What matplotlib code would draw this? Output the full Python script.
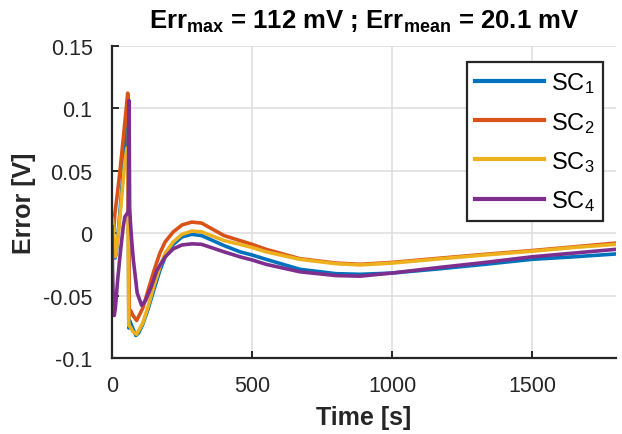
import matplotlib
matplotlib.use("Agg")
import matplotlib.pyplot as plt

plt.rcParams['font.family'] = ['Liberation Sans', 'DejaVu Sans']
plt.rcParams['mathtext.fontset'] = 'custom'
plt.rcParams['mathtext.rm'] = 'Liberation Sans'
plt.rcParams['mathtext.it'] = 'Liberation Sans'
plt.rcParams['mathtext.bf'] = 'Liberation Sans:bold'

# ---- data ----
t_sc1 = [0, 5, 11, 15, 25, 35, 45, 53, 57, 59, 60, 63, 70, 85, 95, 110, 130, 150, 171, 190, 219, 250, 285,
         320, 400, 457, 500, 550, 671, 800, 886, 1000, 1150, 1332, 1500, 1650, 1800]
v_sc1 = [0.003, -0.010, -0.020, -0.016, 0.008, 0.035, 0.065, 0.088, 0.092, 0.0, -0.076, -0.070, -0.074,
         -0.082, -0.080, -0.073, -0.060, -0.045, -0.030, -0.019, -0.009, -0.003, -0.001,
         -0.002, -0.010, -0.015, -0.0175, -0.021, -0.029, -0.0325, -0.033, -0.032, -0.029, -0.025,
         -0.021, -0.019, -0.0167]

t_sc2 = [0, 2, 4, 10, 20, 30, 40, 50, 56, 58, 60, 62, 66, 75, 88, 110, 130, 150, 171, 190, 219, 250, 285,
         320, 400, 457, 500, 550, 671, 800, 886, 1000, 1150, 1332, 1500, 1650, 1800]
v_sc2 = [0.0, -0.015, -0.005, 0.015, 0.033, 0.053, 0.075, 0.098, 0.112, 0.108, 0.0, -0.066, -0.062,
         -0.066, -0.070, -0.060, -0.045, -0.030, -0.016, -0.007, 0.001, 0.0065, 0.0088,
         0.008, -0.002, -0.006, -0.009, -0.013, -0.0205, -0.024, -0.025, -0.0235, -0.0205, -0.017,
         -0.014, -0.011, -0.008]

t_sc3 = [0, 2, 5, 11, 15, 25, 35, 45, 53, 56, 58, 60, 65, 75, 88, 110, 130, 150, 171, 190, 219, 250, 285,
         320, 400, 457, 500, 550, 671, 800, 886, 1000, 1150, 1332, 1500, 1650, 1800]
v_sc3 = [0.012, 0.011, 0.0, -0.019, -0.015, 0.005, 0.030, 0.055, 0.068, 0.060, -0.010, -0.074, -0.075,
         -0.079, -0.081, -0.072, -0.058, -0.042, -0.027, -0.016, -0.007, -0.001, 0.0016,
         0.001, -0.006, -0.009, -0.0115, -0.015, -0.021, -0.0245, -0.0255, -0.024, -0.021, -0.0175,
         -0.0145, -0.0115, -0.009]

t_sc4 = [0, 2, 5, 8, 12, 20, 30, 40, 46, 55, 58, 61, 63, 66, 70, 76, 90, 106, 120, 140, 160, 190, 219,
         250, 285, 320, 400, 457, 500, 550, 671, 800, 886, 1000, 1150, 1332, 1500, 1650, 1800]
v_sc4 = [0.005, -0.030, -0.060, -0.066, -0.060, -0.038, -0.015, 0.005, 0.013, 0.016, 0.018, 0.106,
         0.020, 0.008, -0.005, -0.021, -0.048, -0.058, -0.054, -0.043, -0.030, -0.019, -0.0126,
         -0.0095, -0.0086, -0.009, -0.015, -0.019, -0.0215, -0.025, -0.031, -0.034, -0.0345,
         -0.032, -0.028, -0.0235, -0.019, -0.016, -0.013]

labels = ['SC$_1$', 'SC$_2$', 'SC$_3$', 'SC$_4$']
colors = ['#0072BD', '#D95319', '#EDB120', '#7E2F8E']
x_ticks = [0, 500, 1000, 1500]
y_ticks = [-0.1, -0.05, 0, 0.05, 0.1, 0.15]
y_tick_labels = ['-0.1', '-0.05', '0', '0.05', '0.1', '0.15']
title = r'$\mathbf{Err_{max}}$ = 112 mV ; $\mathbf{Err_{mean}}$ = 20.1 mV'

# ---- figure ----
fig = plt.figure(figsize=(6.22, 4.35), dpi=100)
ax = fig.add_axes([112/622, 1-359/435, (616-112)/622, (359-46.7)/435])

series = [(t_sc1, v_sc1), (t_sc2, v_sc2), (t_sc3, v_sc3), (t_sc4, v_sc4)]
for (t, v), lab, c in zip(series, labels, colors):
    ax.plot(t, v, color=c, lw=2.6, label=lab, solid_joinstyle='round')

ax.set_xlim(0, 1800)
ax.set_ylim(-0.1, 0.15)
ax.set_xticks(x_ticks)
ax.set_yticks(y_ticks)
ax.set_yticklabels(y_tick_labels)
ax.grid(True, color='#dfdfdf', lw=1.2)
ax.set_axisbelow(True)
for s in ['top', 'right']:
    ax.spines[s].set_visible(False)
for s in ['left', 'bottom']:
    ax.spines[s].set_color('#262626')
    ax.spines[s].set_linewidth(1.6)
ax.tick_params(direction='in', length=5, width=1.4, color='#262626', labelsize=15.5,
               labelcolor='#262626')
ax.tick_params(axis='y', pad=14)
ax.tick_params(axis='x', pad=12)

ax.set_xlabel('Time [s]', fontsize=18, fontweight='bold', color='#262626', labelpad=7)
ax.set_ylabel('Error [V]', fontsize=18, fontweight='bold', color='#262626', labelpad=5)
ax.set_title(title, fontsize=18.5, fontweight='bold', color='black', pad=13)

leg = ax.legend(loc='upper left', bbox_to_anchor=(467/622, 1-63.3/435),
                bbox_transform=fig.transFigure, fontsize=17, frameon=True, fancybox=False,
                edgecolor='#262626', framealpha=1, borderaxespad=0, handlelength=2.9,
                handletextpad=0.3, labelspacing=0.6, borderpad=0.35)
leg.get_frame().set_linewidth(1.6)
for line in leg.get_lines():
    line.set_linewidth(3)

fig.savefig('out.png', dpi=100)
